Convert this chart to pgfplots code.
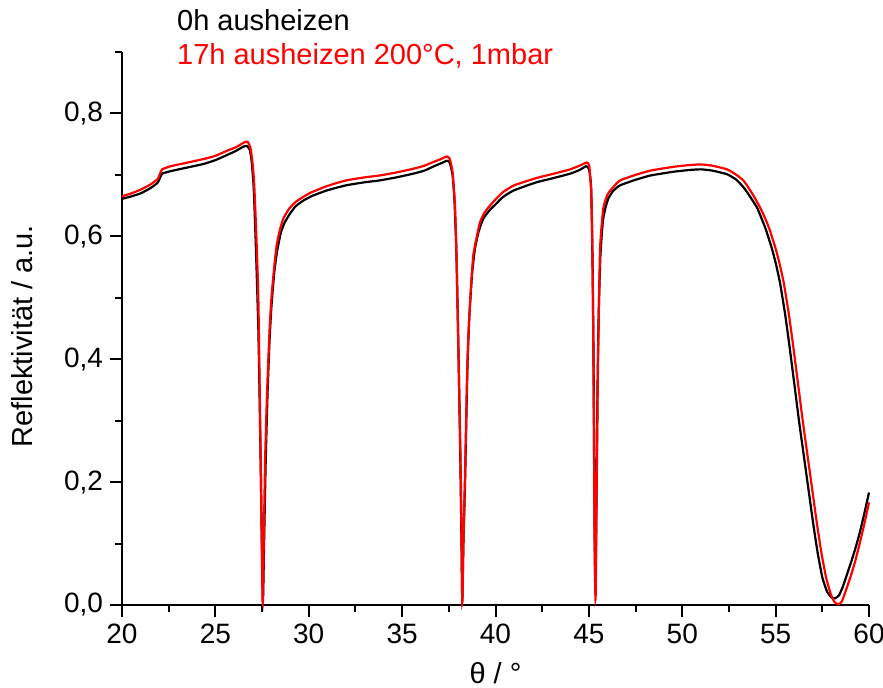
\documentclass[border=0pt]{standalone}
\usepackage{fontspec}
\setmainfont{Liberation Sans}
\usepackage{pgfplots}
\pgfplotsset{compat=1.18}
\begin{document}
\begin{tikzpicture}
\useasboundingbox (0,0) rectangle (441.5pt,344pt);
\begin{axis}[
  at={(61pt,41.5pt)}, anchor=south west,
  width=373.5pt, height=276.5pt, scale only axis,
  xmin=20, xmax=60, ymin=0, ymax=0.9,
  axis x line*=bottom, axis y line*=left,
  axis line style={line width=1pt},
  tick align=outside,
  tick style={line width=1pt, black},
  major tick length=6pt, minor tick length=3.5pt,
  xtick={20,25,...,60},
  minor xtick={22.5,27.5,...,57.5},
  ytick={0,0.2,0.4,0.6,0.8},
  minor ytick={0.1,0.3,0.5,0.7,0.9},
  /pgf/number format/assume math mode=true,
  yticklabel style={/pgf/number format/.cd, use comma, fixed, fixed zerofill, precision=1},
  ticklabel style={font=\fontsize{14}{16}\selectfont},
  label style={font=\fontsize{14.5}{17}\selectfont},
  xlabel={θ / °},
  ylabel={Reflektivität / a.u.},
  xlabel style={at={(axis description cs:0.5,-0.124)}, anchor=center},
  ylabel style={at={(axis description cs:-0.134,0.486)}, anchor=center},
  clip=false,
  legend image code/.code={},
  legend cell align=left,
  legend style={draw=none, fill=none, at={(axis description cs:0.068,1.085)}, anchor=north west,
    font=\fontsize{14.5}{17}\selectfont, row sep=1pt, inner sep=0pt},
]
\addplot[black, line width=1.1pt, smooth, tension=0.3] coordinates {
(20.0,0.661) (20.5,0.665) (21.0,0.670) (21.5,0.678) (21.9,0.687) (22.05,0.696) (22.15,0.702)
(22.6,0.706) (23.5,0.712) (24.4,0.718) (25.0,0.724) (25.6,0.732) (26.1,0.739) (26.5,0.746)
(26.7,0.747) (26.85,0.740) (26.95,0.720) (27.05,0.68) (27.15,0.60) (27.3,0.45) (27.4,0.28)
(27.5,0.08) (27.55,0.006) (27.62,0.12) (27.7,0.24) (27.8,0.35) (27.9,0.43) (28.0,0.485)
(28.15,0.54) (28.3,0.575) (28.5,0.605) (28.7,0.622) (29.0,0.637) (29.3,0.649) (29.7,0.658)
(30.2,0.666) (31.0,0.675) (32.0,0.683) (33.0,0.688) (33.8,0.691) (34.7,0.696) (35.6,0.702)
(36.2,0.707) (36.7,0.714) (37.1,0.719) (37.4,0.723) (37.55,0.72) (37.7,0.70) (37.8,0.66)
(37.9,0.58) (38.0,0.44) (38.1,0.27) (38.18,0.10) (38.22,0.006) (38.28,0.10) (38.37,0.20)
(38.5,0.39) (38.6,0.47) (38.75,0.54) (38.9,0.58) (39.1,0.608) (39.35,0.629) (39.7,0.643)
(40.0,0.652) (40.4,0.664) (41.0,0.675) (42.2,0.688) (43.0,0.694) (44.0,0.702) (44.5,0.708)
(44.85,0.714) (45.0,0.71) (45.12,0.68) (45.2,0.55) (45.25,0.40) (45.3,0.15) (45.35,0.017)
(45.4,0.15) (45.46,0.35) (45.53,0.48) (45.62,0.57) (45.75,0.625) (45.9,0.648) (46.05,0.662)
(46.3,0.674) (46.67,0.683) (47.5,0.692) (48.3,0.699) (49.5,0.705) (50.4,0.708) (51.0,0.709)
(51.6,0.707) (52.4,0.701) (52.9,0.692) (53.3,0.679) (53.6,0.666) (54.0,0.647) (54.3,0.625)
(54.5,0.609) (54.8,0.58) (55.0,0.557) (55.23,0.525) (55.5,0.475) (55.73,0.424) (56.0,0.36)
(56.25,0.30) (56.5,0.245) (56.75,0.19) (57.0,0.135) (57.25,0.085) (57.5,0.045) (57.75,0.022)
(58.0,0.012) (58.2,0.011) (58.4,0.016) (58.6,0.03) (58.8,0.048) (59.0,0.066) (59.25,0.09)
(59.5,0.117) (59.75,0.149) (60.0,0.183)
};
\addlegendentry{0h ausheizen}
\addplot[red, line width=1.1pt, smooth, tension=0.3] coordinates {
(20.0,0.665) (20.5,0.670) (21.0,0.676) (21.5,0.684) (21.9,0.693) (22.05,0.703) (22.15,0.709)
(22.6,0.714) (23.5,0.720) (24.4,0.726) (25.0,0.731) (25.6,0.739) (26.1,0.745) (26.55,0.753)
(26.72,0.754) (26.87,0.745) (26.97,0.725) (27.07,0.69) (27.17,0.62) (27.3,0.50) (27.43,0.23)
(27.53,0.004) (27.6,0.12) (27.66,0.232) (27.75,0.33) (27.83,0.395) (27.92,0.46) (28.01,0.503)
(28.15,0.55) (28.28,0.585) (28.45,0.61) (28.64,0.629) (28.95,0.645) (29.3,0.656) (29.7,0.664)
(30.1,0.671) (31.0,0.682) (32.0,0.691) (33.0,0.696) (33.8,0.699) (34.7,0.704) (35.6,0.710)
(36.2,0.715) (36.67,0.721) (37.1,0.726) (37.39,0.730) (37.55,0.726) (37.7,0.705) (37.83,0.65)
(37.92,0.56) (38.0,0.433) (38.14,0.215) (38.22,0.004) (38.28,0.10) (38.37,0.215) (38.46,0.35)
(38.54,0.433) (38.67,0.51) (38.81,0.569) (39.0,0.60) (39.17,0.623) (39.4,0.638) (39.7,0.650)
(40.0,0.660) (40.4,0.672) (41.0,0.683) (42.2,0.695) (43.0,0.701) (44.0,0.709) (44.5,0.715)
(44.88,0.720) (45.02,0.715) (45.13,0.67) (45.18,0.60) (45.24,0.416) (45.31,0.09) (45.36,0.01)
(45.42,0.2) (45.5,0.416) (45.6,0.58) (45.77,0.645) (46.0,0.668) (46.3,0.68) (46.67,0.691)
(47.5,0.700) (48.3,0.707) (49.5,0.713) (50.4,0.716) (51.0,0.717) (51.6,0.715) (52.4,0.709)
(52.9,0.700) (53.3,0.690) (53.8,0.667) (54.2,0.645) (54.5,0.625) (54.7,0.609) (55.0,0.58)
(55.2,0.557) (55.43,0.525) (55.7,0.475) (55.93,0.424) (56.2,0.36) (56.45,0.30) (56.7,0.245)
(56.95,0.19) (57.2,0.135) (57.45,0.085) (57.7,0.045) (57.95,0.018) (58.15,0.005) (58.35,0.001)
(58.55,0.006) (58.8,0.027) (59.0,0.045) (59.25,0.07) (59.5,0.1) (59.75,0.132) (60.0,0.167)
};
\addlegendentry[text=red]{17h ausheizen 200°C, 1mbar}
\end{axis}
\end{tikzpicture}
\end{document}
